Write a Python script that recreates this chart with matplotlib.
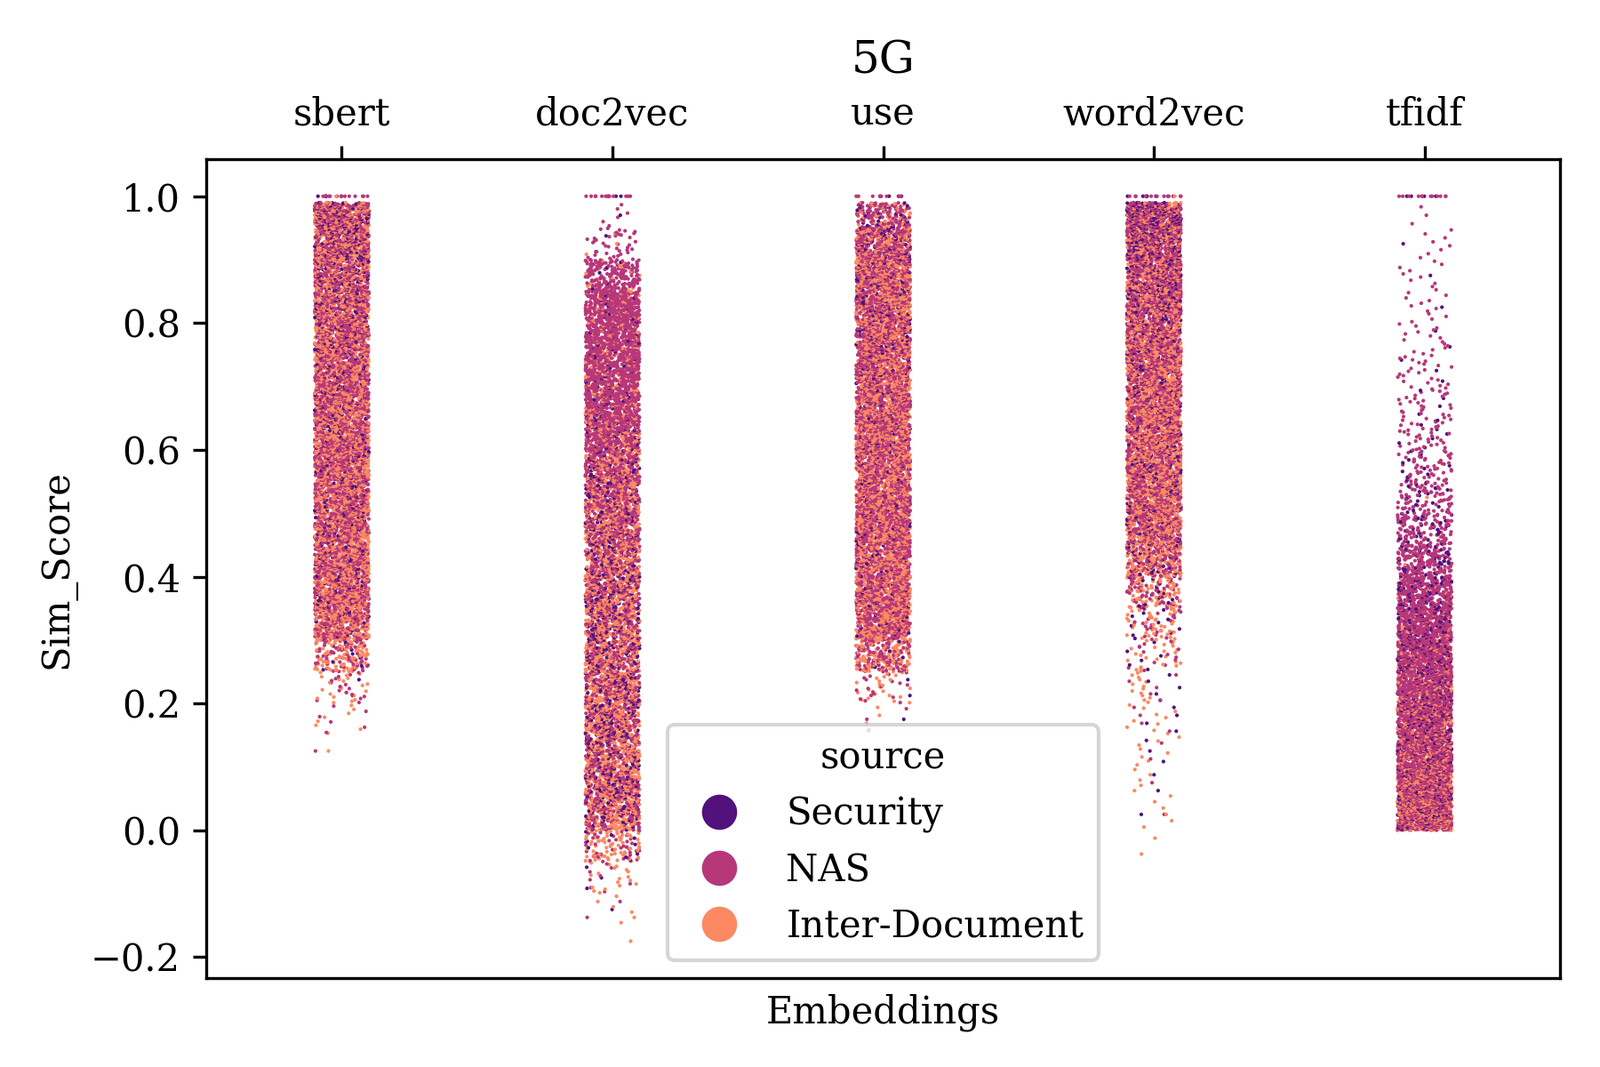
import numpy as np
import pandas as pd
import matplotlib
matplotlib.use("Agg")
import matplotlib.pyplot as plt
from matplotlib.lines import Line2D
import seaborn as sns

plt.rcParams["font.family"] = ["DejaVu Serif"]

EMBEDDINGS = ["sbert", "doc2vec", "use", "word2vec", "tfidf"]
SOURCES = ["Security", "NAS", "Inter-Document"]

# Sim_Score bins (last bin stops just under 1.0)
BIN_EDGES = [-0.20, -0.15, -0.10, -0.05, 0.00, 0.05, 0.10, 0.15, 0.20, 0.25, 0.30, 0.35,
             0.40, 0.45, 0.50, 0.55, 0.60, 0.65, 0.70, 0.75, 0.80, 0.85, 0.90, 0.95, 0.99]

# number of points per bin, estimated from the strip densities
#                   -.20 -.15 -.10 -.05  .00  .05  .10  .15  .20  .25  .30  .35  .40  .45  .50  .55  .60  .65  .70  .75  .80  .85  .90  .95
SBERT_SECURITY =    [0,   0,   0,   0,   0,   0,   0,   0,   2,   8,  25,  35,  35,  40,  42,  42,  45,  50,  55,  60,  70,  85, 100, 100]
SBERT_NAS =         [0,   0,   0,   0,   0,   0,   1,   6,  16,  70, 200, 240, 250, 250, 255, 255, 255, 255, 255, 255, 250, 250, 250, 240]
SBERT_INTER =       [0,   0,   0,   0,   0,   0,   1,   8,  22,  90, 215, 240, 245, 245, 245, 240, 240, 230, 230, 230, 225, 225, 225, 210]

DOC2VEC_SECURITY =  [0,   1,   3,  10,  60,  70,  70,  70,  70,  70,  70,  67,  63,  56,  50,  42,  35,  25,  18,  15,  12,   6,   2,   1]
DOC2VEC_NAS =       [0,   2,   8,  35, 140, 140, 140, 140, 147, 147, 155, 160, 170, 195, 215, 240, 285, 330, 370, 380, 380, 190,  38,   6]
DOC2VEC_INTER =     [1,   6,  18,  70, 180, 175, 175, 175, 175, 175, 170, 170, 160, 155, 150, 135, 100,  70,  50,  42,  35,  15,   3,   0]

USE_SECURITY =      [0,   0,   0,   0,   0,   0,   0,   1,   2,  10,  20,  28,  28,  28,  35,  35,  35,  35,  55,  55,  55,  55,  60,  28]
USE_NAS =           [0,   0,   0,   0,   0,   0,   0,   3,  18, 110, 240, 265, 265, 265, 265, 265, 265, 265, 260, 260, 260, 260, 240, 110]
USE_INTER =         [0,   0,   0,   0,   0,   0,   1,   4,  22, 125, 225, 240, 240, 240, 245, 245, 245, 245, 240, 240, 240, 240, 180,  55]

WORD2VEC_SECURITY = [0,   0,   0,   0,   1,   2,   3,   4,   5,   7,  10,  20,  35,  50,  55,  55,  55,  55,  70,  70, 100, 100, 130, 155]
WORD2VEC_NAS =      [0,   0,   0,   0,   1,   1,   2,   4,   5,  12,  22,  55, 125, 210, 250, 250, 250, 250, 260, 260, 265, 265, 265, 250]
WORD2VEC_INTER =    [0,   0,   0,   2,   5,   6,   8,  10,  14,  24,  42,  80, 155, 225, 250, 250, 250, 250, 240, 240, 210, 210, 180, 155]

TFIDF_SECURITY =    [0,   0,   0,   0, 110, 110, 110, 105, 100,  90,  85,  62,  42,  28,  17,  11,   7,   4,   3,   2,   1,   1,   1,   0]
TFIDF_NAS =         [0,   0,   0,   0, 490, 460, 460, 460, 450, 420, 380, 280, 170, 110,  75,  52,  38,  30,  22,  16,  12,  10,   8,   3]
TFIDF_INTER =       [0,   0,   0,   0, 350, 280, 210, 155, 110,  70,  35,  11,   4,   2,   1,   0,   0,   0,   0,   0,   0,   0,   0,   0]

# points sitting exactly at 1.0, per embedding
AT_ONE_SECURITY = [5, 2, 3, 5, 4]
AT_ONE_NAS = [12, 14, 10, 12, 12]
AT_ONE_INTER = [1, 0, 0, 1, 0]

bin_counts = {
    "sbert": [SBERT_SECURITY, SBERT_NAS, SBERT_INTER],
    "doc2vec": [DOC2VEC_SECURITY, DOC2VEC_NAS, DOC2VEC_INTER],
    "use": [USE_SECURITY, USE_NAS, USE_INTER],
    "word2vec": [WORD2VEC_SECURITY, WORD2VEC_NAS, WORD2VEC_INTER],
    "tfidf": [TFIDF_SECURITY, TFIDF_NAS, TFIDF_INTER],
}
at_one = [AT_ONE_SECURITY, AT_ONE_NAS, AT_ONE_INTER]

# expand the binned counts into one row per point
frames = []
for i, emb in enumerate(EMBEDDINGS):
    scores, labels = [], []
    for j, src in enumerate(SOURCES):
        for k, n in enumerate(bin_counts[emb][j]):
            if n == 0:
                continue
            lo, hi = BIN_EDGES[k], BIN_EDGES[k + 1]
            scores.extend(lo + (np.arange(n) + 0.5) / n * (hi - lo))
            labels.extend([src] * n)
        scores.extend([1.0] * at_one[j][i])
        labels.extend([src] * at_one[j][i])
    part = pd.DataFrame({"Embeddings": emb, "Sim_Score": scores, "source": labels})
    # sort by score so the sources interleave in drawing order
    frames.append(part.sort_values("Sim_Score", kind="stable"))
df = pd.concat(frames, ignore_index=True)

fig = plt.figure(figsize=(6, 4), dpi=300)
ax = fig.add_axes([0.129, 0.083, 0.846, 0.768])

sns.stripplot(data=df, x="Embeddings", y="Sim_Score", hue="source",
              order=EMBEDDINGS, hue_order=SOURCES, palette="magma",
              size=1, linewidth=0, legend=False, ax=ax)

ax.xaxis.tick_top()
ax.xaxis.set_label_position("bottom")
ax.set_title("5G")

colors = sns.color_palette("magma", len(SOURCES))
handles = [Line2D([], [], marker="o", ls="", color=c, markersize=8.5) for c in colors]
ax.legend(handles, SOURCES, title="source", loc="lower center")

fig.savefig("out.png", dpi=300)
